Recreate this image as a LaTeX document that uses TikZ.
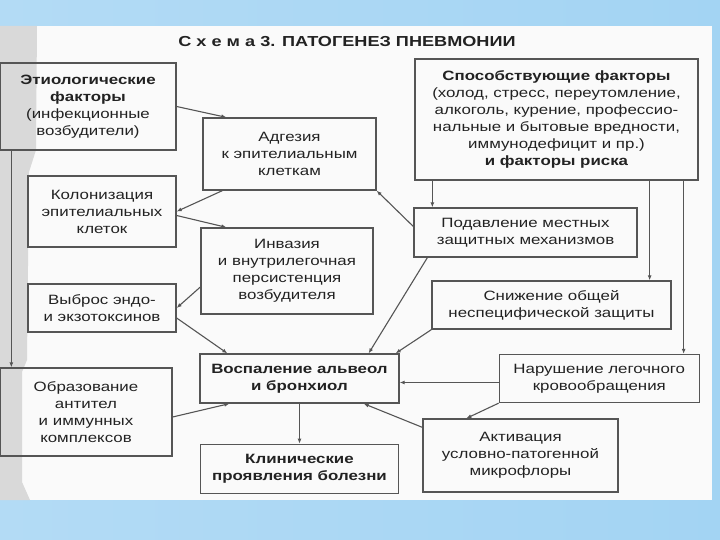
\documentclass[tikz,border=0pt]{standalone}
\usepackage{fontspec}
\setmainfont{Liberation Sans}[FakeStretch=1.25]
\usetikzlibrary{arrows.meta, positioning}

\definecolor{bgleft}{HTML}{B3DBF5}
\definecolor{bgmid}{HTML}{E9F5FC}
\definecolor{bgright}{HTML}{A3D4F3}
\definecolor{paper}{HTML}{FAFAFA}
\definecolor{scan}{HTML}{D9D9D9}
\definecolor{linegray}{HTML}{555555}
\definecolor{ink}{HTML}{222222}

\begin{document}
\begin{tikzpicture}[
        x=1pt, y=-1pt,
        >={Latex[length=5pt,width=4pt]},
        font=\fontsize{13.5}{17}\selectfont,
        box/.style={draw=linegray, line width=1.3pt, inner sep=0pt, align=center, text=ink},
        link/.style={->, draw=linegray, line width=1.1pt},
    ]

    % Frame
    \useasboundingbox (0,0) rectangle (720,540);
    \shade[left color=bgleft, middle color=bgmid, right color=bgright] (0,0) rectangle (720,540);
    \fill[paper] (0,26) rectangle (712,500);
    \fill[scan] (0,26) -- (37,26) -- (36,150) -- (29,172) -- (27,360) -- (22,372) -- (22,482) -- (30,500) -- (0,500) -- cycle;

    % Title
    \node[text=ink, font=\fontsize{14.5}{17}\selectfont\bfseries] (title) at (347,42) {С\ х\ е\ м\ а 3. ПАТОГЕНЕЗ ПНЕВМОНИИ};

    % Nodes
    \node[box, minimum width=176pt, minimum height=87pt] (etio) at (88,106.5) {\textbf{Этиологические}\\\textbf{факторы}\\(инфекционные\\возбудители)};
    \node[box, minimum width=173pt, minimum height=72pt] (adhes) at (289.5,154) {Адгезия\\к эпителиальным\\клеткам};
    \node[box, minimum width=283pt, minimum height=121pt] (contrib) at (556.5,119.5) {\textbf{Способствующие факторы}\\(холод, стресс, переутомление,\\алкоголь, курение, профессио-\\нальные и бытовые вредности,\\иммунодефицит и пр.)\\\textbf{и факторы риска}};
    \node[box, minimum width=148pt, minimum height=71pt] (colon) at (102,211.5) {Колонизация\\эпителиальных\\клеток};
    \node[box, minimum width=223pt, minimum height=49pt] (suppr) at (525.5,232.5) {Подавление местных\\защитных механизмов};
    \node[box, minimum width=172pt, minimum height=86pt] (invas) at (287,271) {Инвазия\\и внутрилегочная\\персистенция\\возбудителя};
    \node[box, minimum width=148pt, minimum height=48pt] (toxin) at (102,308) {Выброс эндо-\\и экзотоксинов};
    \node[box, minimum width=239pt, minimum height=48pt] (reduc) at (551.5,305) {Снижение общей\\неспецифической защиты};
    \node[box, minimum width=199pt, minimum height=49pt] (inflam) at (299.5,378.5) {\textbf{Воспаление альвеол}\\\textbf{и бронхиол}};
    \node[box, minimum width=200pt, minimum height=48pt, right=99pt of inflam] (circ) {Нарушение легочного\\кровообращения};
    \node[box, minimum width=172pt, minimum height=88pt] (antib) at (86,412) {Образование\\антител\\и иммунных\\комплексов};
    \node[box, minimum width=198pt, minimum height=49pt, below=40pt of inflam] (clinic) {\textbf{Клинические}\\\textbf{проявления болезни}};
    \node[box, minimum width=195pt, minimum height=73pt] (activ) at (520.5,455.5) {Активация\\условно-патогенной\\микрофлоры};

    % Edges, left side
    \draw[link] (etio.east) -- ([xshift=24pt]adhes.north west);
    \draw[link] ([xshift=20pt]adhes.south west) -- (colon.east);
    \draw[link] ([yshift=-4pt]colon.east) -- ([xshift=26pt]invas.north west);
    \draw[link] ([yshift=-16pt]invas.west) -- (toxin.east);
    \draw[link] ([yshift=-10pt]toxin.east) -- ([xshift=28pt]inflam.north west);
    \draw[link] ([xshift=12pt]etio.south west) -- ([xshift=12pt]etio.south west |- antib.north);
    \draw[link] ([yshift=-5pt]antib.east) -- ([xshift=30pt]inflam.south west);
    \draw[link] (inflam.south) -- (clinic.north);

    % Edges, right side
    \draw[link] ([xshift=18pt]contrib.south west) -- ([xshift=18pt]contrib.south west |- suppr.north);
    \draw[link] ([xshift=-49pt]contrib.south east) -- ([xshift=-49pt]contrib.south east |- reduc.north);
    \draw[link] ([xshift=-15pt]contrib.south east) -- ([xshift=-15pt]contrib.south east |- circ.north);
    \draw[link] ([yshift=6pt]suppr.west) -- (adhes.south east);
    \draw[link] ([xshift=14pt]suppr.south west) -- ([xshift=-31pt]inflam.north east);
    \draw[link] (reduc.south west) -- ([xshift=-4pt]inflam.north east);
    \draw[link] ([yshift=-4pt]circ.west) -- ([yshift=-4pt]circ.west -| inflam.east);
    \draw[link] (circ.south west) -- ([xshift=44pt]activ.north west);
    \draw[link] ([yshift=-9pt]activ.north west) -- ([xshift=-36pt]inflam.south east);

\end{tikzpicture}
\end{document}
